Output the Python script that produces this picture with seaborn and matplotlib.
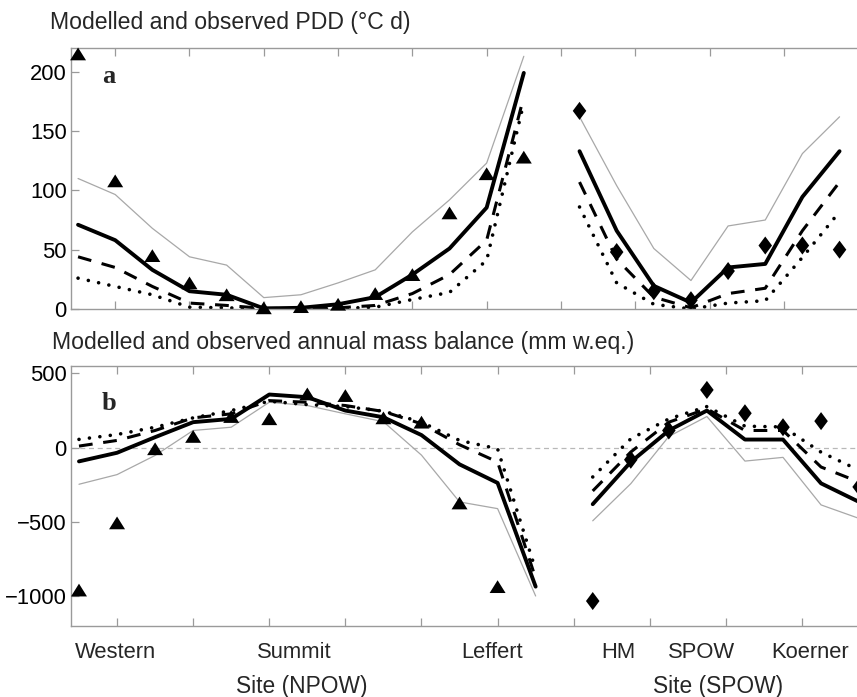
import numpy as np
import pandas as pd
import matplotlib
matplotlib.use("Agg")
import matplotlib.pyplot as plt
import seaborn as sns

sns.set_theme(style="white")
plt.rcParams['font.family'] = ['Liberation Sans', 'DejaVu Sans']

# ---------------- data ----------------
x_npow = [0, 1, 2, 3, 4, 5, 6, 7, 8, 9, 10, 11, 12]
x_spow = [13.5, 14.5, 15.5, 16.5, 17.5, 18.5, 19.5, 20.5]

# Panel a: PDD (°C d)
obs_pdd_n = [215, 108, 45, 22, 12, 1, 2, 4, 13, 29, 81, 114, 128]
solid_pdd_n = [71, 58, 33, 15, 12, 0.5, 1, 4, 10, 29, 51, 85.5, 199]
gray_pdd_n = [110, 96.5, 68, 44, 37, 9.6, 12, 22, 33, 65, 92, 123, 213]
dashed_pdd_n = [44, 35, 19, 5, 3, 0.5, 0.5, 1, 3, 13, 29, 58, 179]
dotted_pdd_n = [26, 19, 12, 1.5, 1, 0, 0, 0.5, 1.5, 8, 14, 41, 174]

obs_pdd_s = [167, 48, 15, 7.4, 32, 53.5, 53.5, 50]
solid_pdd_s = [133, 66, 19.5, 5.4, 35, 38, 94.5, 133]
gray_pdd_s = [162, 104, 51, 24, 70, 75, 131, 162]
dashed_pdd_s = [107, 42, 10, 1, 13, 17.5, 66, 107]
dotted_pdd_s = [86, 22, 4, 0, 5, 7, 43.5, 82]

# Panel b: annual mass balance (mm w.eq.)
obs_mb_n = [-958, -506, -7, 76, 210, 195, 362, 351, 201, 172, -372, -935]
solid_mb_n = [-92, -34, 71, 172, 194, 358, 340, 250, 205, 85, -112, -237, -935]
gray_mb_n = [-246, -181, -52, 116, 138, 306, 284, 228, 175, -50, -365, -410, -998]
dashed_mb_n = [11, 49, 116, 201, 228, 317, 306, 284, 244, 161, 20, -96, -879]
dotted_mb_n = [56, 89, 138, 201, 250, 313, 290, 277, 246, 172, 49, -7, -823]

obs_mb_s = [-1032, -81, 116, 389, 232, 138, 179, -264]
solid_mb_s = [-380, -96, 116, 250, 55, 55, -240, -365]
gray_mb_s = [-492, -242, 76, 210, -90, -65, -385, -476]
dashed_mb_s = [-291, -29, 172, 262, 116, 116, -130, -231]
dotted_mb_s = [-197, 60, 194, 277, 145, 140, -30, -152]

site_names = ["Western", "Summit", "Leffert", "HM", "SPOW", "Koerner"]
site_label_x = [0.95, 5.65, 10.85, 14.17, 16.35, 19.2]
xtick_pos = [1, 3, 5, 7, 9, 11, 13, 15, 17, 19]

pdd_ticks = [0, 50, 100, 150, 200]
mb_ticks = [-1000, -500, 0, 500]

# ---------------- styles ----------------
SPINE = "#9a9a9a"
tri = [(0, 0.8), (-1, -0.8), (1, -0.8)]
dia = [(0, 1), (0.75, 0), (0, -1), (-0.75, 0)]

line_styles = [
    dict(color="#a8a8a8", linewidth=0.9, linestyle="-"),
    dict(color="black", linewidth=2.2, linestyle=(0, (4.5, 3.5))),
    dict(color="black", linewidth=2.6, linestyle=(0, (0.01, 2.9)), dash_capstyle="round"),
    dict(color="black", linewidth=2.8, linestyle="-"),
]

W, H = 857, 697
fig = plt.figure(figsize=(W / 100, H / 100), dpi=100)

def px_axes(left, top, right, bottom):
    return fig.add_axes([left / W, 1 - bottom / H, (right - left) / W, (bottom - top) / H])

ax_a = px_axes(71, 48, 857, 309)
ax_b = px_axes(71, 366, 877, 626)


def draw(ax, ns, ss, obs_n, obs_s):
    for series_n, series_s, st in zip(ns, ss, line_styles):
        sns.lineplot(x=x_npow, y=series_n, ax=ax, **st)
        sns.lineplot(x=x_spow, y=series_s, ax=ax, **st)
    sns.scatterplot(x=x_npow[:len(obs_n)], y=obs_n, ax=ax, marker=tri, s=11.5 ** 2,
                    color="black", edgecolor="none", linewidth=0, clip_on=False, zorder=5)
    sns.scatterplot(x=x_spow[:len(obs_s)], y=obs_s, ax=ax, marker=dia, s=13 ** 2,
                    color="black", edgecolor="none", linewidth=0, clip_on=False, zorder=5)


def style(ax):
    for side in ["top", "bottom", "left"]:
        ax.spines[side].set_color(SPINE)
        ax.spines[side].set_linewidth(1.0)
    ax.spines["right"].set_visible(False)
    ax.set_xticks(xtick_pos)
    ax.set_xticklabels([])
    ax.tick_params(axis="x", which="both", direction="in", length=6, width=0.9,
                   color=SPINE, top=True, bottom=True)
    ax.tick_params(axis="y", which="both", direction="in", length=6, width=0.9,
                   color=SPINE, left=True, right=False, labelsize=15.8, pad=3,
                   labelcolor="black")
    ax.set_xlabel("")
    ax.set_ylabel("")
    ax.grid(False)


draw(ax_a, [gray_pdd_n, dashed_pdd_n, dotted_pdd_n, solid_pdd_n],
     [gray_pdd_s, dashed_pdd_s, dotted_pdd_s, solid_pdd_s], obs_pdd_n, obs_pdd_s)
ax_a.set_xlim(-0.19, 20.97)
ax_a.set_ylim(0, 220)
ax_a.set_yticks(pdd_ticks)
style(ax_a)

ax_b.axhline(0, color="#b8b8b8", linewidth=0.9, linestyle=(0, (4, 3)), zorder=0)
draw(ax_b, [gray_mb_n, dashed_mb_n, dotted_mb_n, solid_mb_n],
     [gray_mb_s, dashed_mb_s, dotted_mb_s, solid_mb_s], obs_mb_n, obs_mb_s)
ax_b.set_xlim(-0.21, 20.97)
ax_b.set_ylim(-1200, 550)
ax_b.set_yticks(mb_ticks)
style(ax_b)

# panel letters
ax_a.text(0.039, 0.866, "a", transform=ax_a.transAxes, fontsize=19, fontweight="bold",
          family="Liberation Serif", va="baseline", ha="left")
ax_b.text(0.0385, 0.83, "b", transform=ax_b.transAxes, fontsize=19, fontweight="bold",
          family="Liberation Serif", va="baseline", ha="left")

# titles
fig.text(50 / W, 1 - 29 / H, "Modelled and observed PDD (°C d)", fontsize=16.6,
         ha="left", va="baseline")
fig.text(52 / W, 1 - 349 / H, "Modelled and observed annual mass balance (mm w.eq.)",
         fontsize=16.6, ha="left", va="baseline")

# site labels
trans = matplotlib.transforms.blended_transform_factory(ax_b.transData, fig.transFigure)
for name, xp in zip(site_names, site_label_x):
    ax_b.text(xp, 1 - 653 / H, name, transform=trans, fontsize=15.8, ha="center",
              va="center", clip_on=False)
fig.text(302 / W, 1 - 687 / H, "Site (NPOW)", fontsize=16.4, ha="center", va="center")
fig.text(718 / W, 1 - 687 / H, "Site (SPOW)", fontsize=16.4, ha="center", va="center")

fig.savefig("out.png", dpi=100)
